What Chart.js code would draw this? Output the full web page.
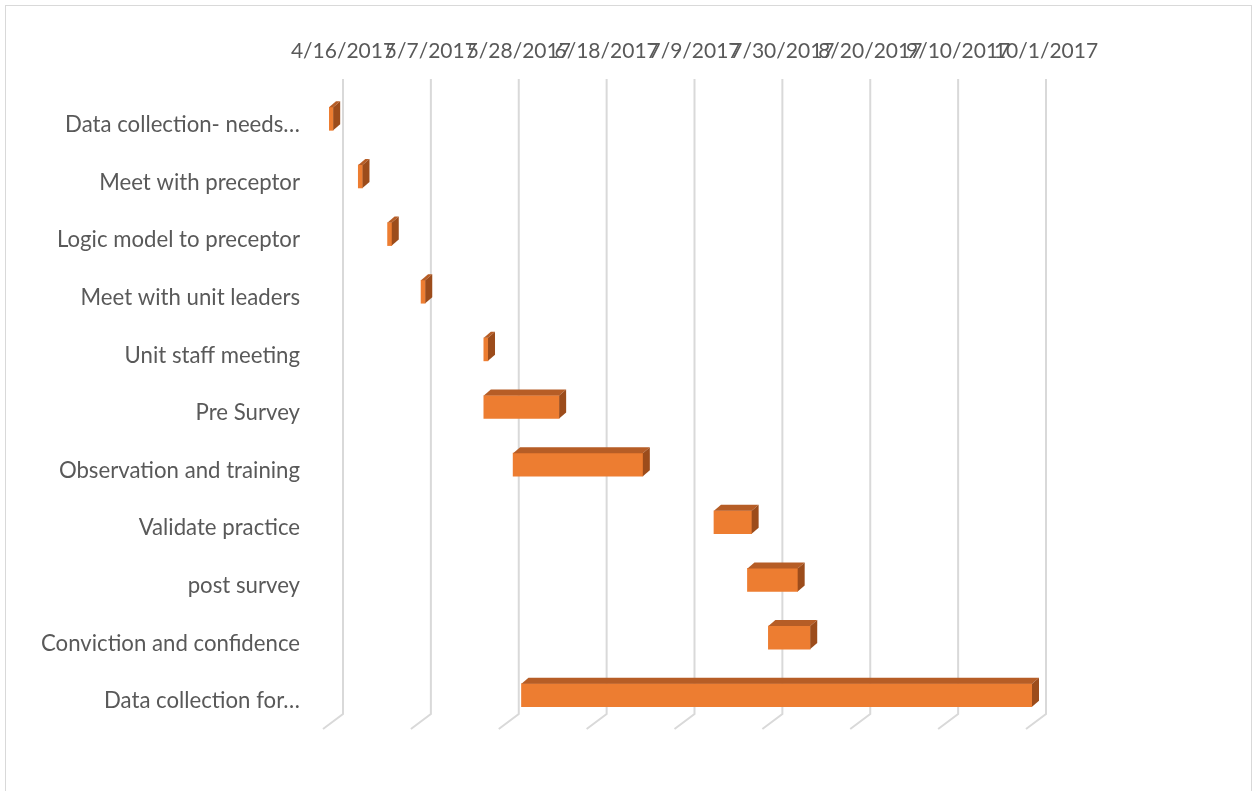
<!DOCTYPE html>
<html>
<head>
<meta charset="utf-8">
<script src="https://cdn.jsdelivr.net/npm/chart.js@4.4.1/dist/chart.umd.min.js"></script>
<style>
  html, body { margin: 0; padding: 0; background: #fff; }
  #wrap { position: relative; width: 1254px; height: 791px; overflow: hidden; }
  #frame { position: absolute; left: 5px; top: 5px; width: 1245px; height: 800px;
           border: 1.5px solid #d9d9d9; border-bottom: none; }
  canvas { position: absolute; left: 0; top: 0; }
</style>
</head>
<body>
<div id="wrap">
  <div id="frame"></div>
  <canvas id="gantt" width="1254" height="791"></canvas>
</div>
<script>
// tasks, top to bottom
const tasks = [
  'Data collection- needs…',
  'Meet with preceptor',
  'Logic model to preceptor',
  'Meet with unit leaders',
  'Unit staff meeting',
  'Pre Survey',
  'Observation and training',
  'Validate practice',
  'post survey',
  'Conviction and confidence',
  'Data collection for…'
];
const startDates = [
  '2017-04-16', '2017-04-23', '2017-04-30', '2017-05-08', '2017-05-23',
  '2017-05-23', '2017-05-30', '2017-07-17', '2017-07-25', '2017-07-30', '2017-06-01'
];
const durationDays = [1, 1, 1, 1, 1, 18, 31, 9, 12, 10, 122];
const tickLabels = [
  '4/16/2017', '5/7/2017', '5/28/2017', '6/18/2017', '7/9/2017',
  '7/30/2017', '8/20/2017', '9/10/2017', '10/1/2017'
];
const axisStart = '2017-04-16';
const axisStepDays = 21;

const DAY = 86400000;
const dayOffset = s => Math.round((Date.parse(s) - Date.parse(axisStart)) / DAY);
const ranges = startDates.map((s, i) => [dayOffset(s), dayOffset(s) + durationDays[i]]);

const FONT = 'Lato';
const TXT = '#595959';
const DEPTH_X = 7, DEPTH_Y = 6;     // bar depth
const WALL_X = 14;                   // back wall is shifted right of the bar fronts
const FLOOR_X = 20, FLOOR_Y = 15;    // floor slant under the wall

// gridlines on the back wall plus floor slant
const wallGrid = {
  id: 'wallGrid',
  beforeDatasetsDraw(chart) {
    const ctx = chart.ctx;
    const xs = chart.scales.x;
    ctx.save();
    ctx.strokeStyle = '#d9d9d9';
    ctx.lineWidth = 2;
    xs.ticks.forEach(t => {
      const x = xs.getPixelForValue(t.value) + WALL_X;
      ctx.beginPath();
      ctx.moveTo(x, 79);
      ctx.lineTo(x, 714);
      ctx.lineTo(x - FLOOR_X, 714 + FLOOR_Y);
      ctx.stroke();
    });
    ctx.restore();
  }
};

// top and side faces for the 3D bars
const barFaces = {
  id: 'barFaces',
  afterDatasetsDraw(chart) {
    const ctx = chart.ctx;
    const meta = chart.getDatasetMeta(0);
    ctx.save();
    meta.data.forEach(bar => {
      const p = bar.getProps(['x', 'y', 'base', 'height'], true);
      const l = Math.min(p.x, p.base), r = Math.max(p.x, p.base);
      const top = p.y - p.height / 2, bot = p.y + p.height / 2;
      ctx.fillStyle = '#b65d26';
      ctx.beginPath();
      ctx.moveTo(l, top);
      ctx.lineTo(l + DEPTH_X, top - DEPTH_Y);
      ctx.lineTo(r + DEPTH_X, top - DEPTH_Y);
      ctx.lineTo(r, top);
      ctx.closePath();
      ctx.fill();
      ctx.fillStyle = '#9c4c1b';
      ctx.beginPath();
      ctx.moveTo(r, top);
      ctx.lineTo(r + DEPTH_X, top - DEPTH_Y);
      ctx.lineTo(r + DEPTH_X, bot - DEPTH_Y);
      ctx.lineTo(r, bot);
      ctx.closePath();
      ctx.fill();
    });
    ctx.restore();
  }
};

new Chart(document.getElementById('gantt'), {
  type: 'bar',
  data: {
    labels: tasks,
    datasets: [{
      data: ranges,
      backgroundColor: '#ed7d31',
      borderWidth: 0,
      barThickness: 23,
    }]
  },
  options: {
    indexAxis: 'y',
    responsive: false,
    animation: false,
    layout: { padding: { left: 0, top: 0, right: 222, bottom: 67 } },
    plugins: { legend: { display: false }, tooltip: { enabled: false } },
    scales: {
      x: {
        type: 'linear',
        position: 'top',
        min: 0,
        max: 168,
        afterFit: a => { a.height = 90; },
        afterBuildTicks: a => {
          a.ticks = tickLabels.map((_, i) => ({ value: i * axisStepDays }));
        },
        ticks: {
          autoSkip: false, maxRotation: 0, minRotation: 0,
          labelOffset: WALL_X, padding: 26,
          color: TXT, font: { family: FONT, size: 21 },
          callback: (v, i) => tickLabels[i],
        },
        grid: { display: false, drawTicks: false },
        border: { display: false },
      },
      y: {
        afterFit: a => { a.width = 329; },
        ticks: {
          padding: 29, labelOffset: 6,
          color: TXT, font: { family: FONT, size: 22.2 },
        },
        grid: { display: false, drawTicks: false },
        border: { display: false },
      }
    }
  },
  plugins: [wallGrid, barFaces]
});
</script>
</body>
</html>
